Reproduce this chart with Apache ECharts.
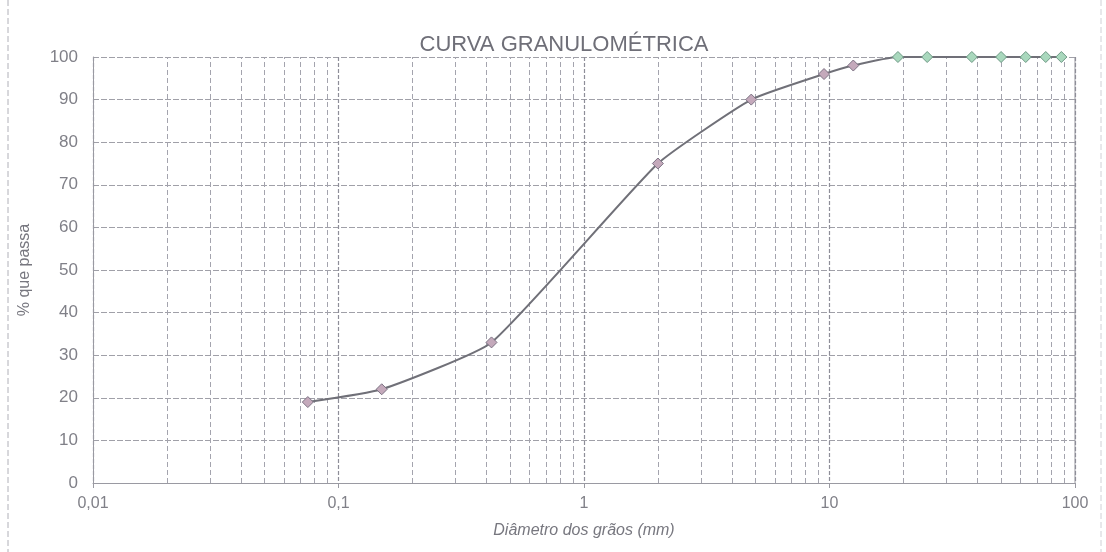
<!DOCTYPE html>
<html>
<head>
<meta charset="utf-8">
<script src="https://cdn.jsdelivr.net/npm/echarts@6/dist/echarts.min.js"></script>
<style>
  html, body { margin: 0; padding: 0; background: #fff; }
  #chart { width: 1106px; height: 552px; }
</style>
</head>
<body>
<div id="chart"></div>
<script>
// sieve openings (mm) and % passing
var diameters = [0.075, 0.15, 0.42, 2.0, 4.8, 9.5, 12.5, 19, 25, 38, 50, 63, 76, 88]
var passing = [19, 22, 33, 75, 90, 96, 98, 100, 100, 100, 100, 100, 100, 100]
var yTicks = [0, 10, 20, 30, 40, 50, 60, 70, 80, 90, 100]
// minor log grid lines (2..9 in each decade)
var minorX = [
    0.02, 0.03, 0.04, 0.05, 0.06, 0.07, 0.08, 0.09,
    0.2, 0.3, 0.4, 0.5, 0.6, 0.7, 0.8, 0.9,
    2, 3, 4, 5, 6, 7, 8, 9,
    20, 30, 40, 50, 60, 70, 80, 90
]

var dom = document.getElementById('chart')
var myChart = echarts.init(dom)

var pts = diameters.map(function (d, i) {
    var full = passing[i] >= 100
    return {
        value: [d, passing[i]],
        itemStyle: {
            color: full ? '#a9d8bd' : '#c4a9bb',
            borderColor: full ? '#6f9a86' : '#7d7384',
            borderWidth: 1
        }
    }
})

var font = 'Liberation Sans, Arial'

var option = {
    backgroundColor: '#ffffff',
    animation: false,
    title: {
        text: 'CURVA GRANULOMÉTRICA',
        left: 559,
        top: 29,
        textAlign: 'center',
        textStyle: { color: '#6f6f78', fontFamily: font, fontSize: 22, fontWeight: 'normal' }
    },
    grid: { left: 93, right: 31, top: 57, bottom: 69 },
    xAxis: {
        type: 'log',
        logBase: 10,
        min: 0.01,
        max: 100,
        name: 'Diâmetro dos grãos (mm)',
        nameLocation: 'middle',
        nameGap: 40,
        nameTextStyle: { color: '#77777f', fontFamily: font, fontSize: 16, fontStyle: 'italic' },
        axisLine: { show: true, lineStyle: { color: '#9a9aa2', width: 1 } },
        axisTick: { show: true, length: 5, lineStyle: { color: '#9a9aa2' } },
        axisLabel: {
            color: '#808088',
            fontFamily: font,
            fontSize: 16,
            margin: 13,
            formatter: function (v) { return String(v).replace('.', ',') }
        },
        splitLine: { show: true, lineStyle: { color: '#8e8e98', width: 1.2, type: [4, 2] } }
    },
    yAxis: {
        type: 'value',
        min: 0,
        max: 100,
        interval: 10,
        name: '% que passa',
        nameLocation: 'middle',
        nameGap: 60,
        nameRotate: 90,
        nameTextStyle: { color: '#77777f', fontFamily: font, fontSize: 16 },
        axisLine: { show: true, lineStyle: { color: '#9a9aa2' } },
        axisTick: { show: false },
        axisLabel: {
            color: '#808088',
            fontFamily: font,
            fontSize: 17,
            margin: 15,
            customValues: yTicks
        },
        splitLine: { show: true, lineStyle: { color: '#a0a0a8', width: 1, type: [6, 2] } }
    },
    graphic: [
        { type: 'line', shape: { x1: 8, y1: 0, x2: 8, y2: 552 }, style: { stroke: '#b0b0b8', lineDash: [6, 3], lineWidth: 1 } },
        { type: 'line', shape: { x1: 1101, y1: 0, x2: 1101, y2: 552 }, style: { stroke: '#d0d0d6', lineDash: [6, 3], lineWidth: 1 } },
        { type: 'line', shape: { x1: 1075, y1: 57, x2: 1075, y2: 483 }, style: { stroke: '#9a9aa2', lineWidth: 1 } }
    ],
    series: [
        {
            type: 'line',
            data: [],
            silent: true,
            markLine: {
                silent: true,
                symbol: 'none',
                label: { show: false },
                lineStyle: { color: '#a4a4ae', width: 1, type: [5, 3] },
                data: minorX.map(function (x) { return { xAxis: x } })
            }
        },
        {
            type: 'line',
            data: pts,
            smooth: 0.15,
            symbol: 'diamond',
            symbolSize: 11,
            lineStyle: { color: '#707078', width: 2 },
            z: 5
        }
    ]
}

myChart.setOption(option, true)
</script>
</body>
</html>
